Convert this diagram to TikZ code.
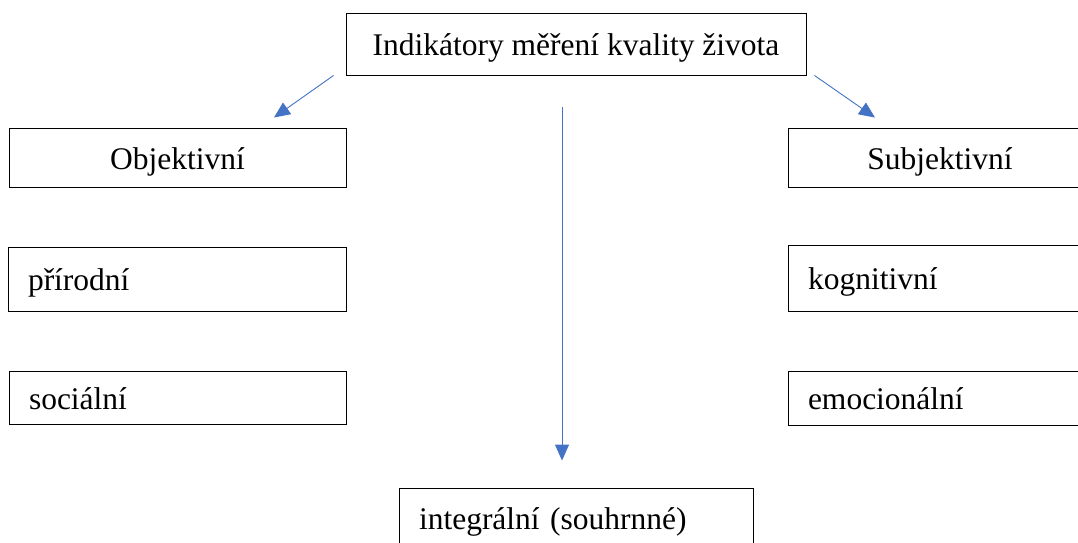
\documentclass[tikz,border=0pt]{standalone}
\usepackage{fontspec}
\setmainfont{Liberation Serif}
\usetikzlibrary{arrows.meta}
\definecolor{arrowblue}{RGB}{68,114,196}
\tikzset{
  box/.style={draw, line width=0.9pt, inner ysep=0pt, font=\fontsize{31.5}{36}\selectfont,
    text height=26pt, text depth=3pt},
  cbox/.style={box, align=center, inner xsep=0pt},
  lbox/.style={box, align=left, inner xsep=20pt, text width=#1},
  arr/.style={->, arrowblue, line width=0.9pt}
}

\begin{document}
\begin{tikzpicture}[>={Triangle[length=16pt,width=14pt]}, x=1pt, y=-1pt]
        \useasboundingbox (0, 0) rectangle (1078, 543);
        % boxes
        \node[cbox, minimum width=460, minimum height=62] (title) at (576, 44){Indikátory měření kvality života};
        \node[cbox, minimum width=337, minimum height=59] (obj) at (177.5, 157.5){Objektivní};
        \node[cbox, minimum width=304, minimum height=59] (subj) at (940, 157.5){Subjektivní};
        \node[lbox=298, minimum height=64] (prir) at (177, 279){přírodní};
        \node[lbox=264, minimum height=66] (kogn) at (940, 278){kognitivní};
        \node[lbox=297, minimum height=53] (soc) at (177.5, 397.5){sociální};
        \node[lbox=264, minimum height=54] (emoc) at (940, 398){emocionální};
        \node[lbox=314, minimum height=60] (integ) at (576, 518){integrální (souhrnné)};
        % arrows
        \draw[arr] ([xshift=-12pt]title.south west) -- ([xshift=96.5pt, yshift=10pt]obj.north);
        \draw[arr] ([xshift=8pt]title.south east) -- ([xshift=-65pt, yshift=10pt]subj.north);
        \draw[arr] ([xshift=-14pt, yshift=-32pt]title.south) -- ([xshift=-14pt, yshift=27pt]integ.north);
    \end{tikzpicture}
\end{document}
